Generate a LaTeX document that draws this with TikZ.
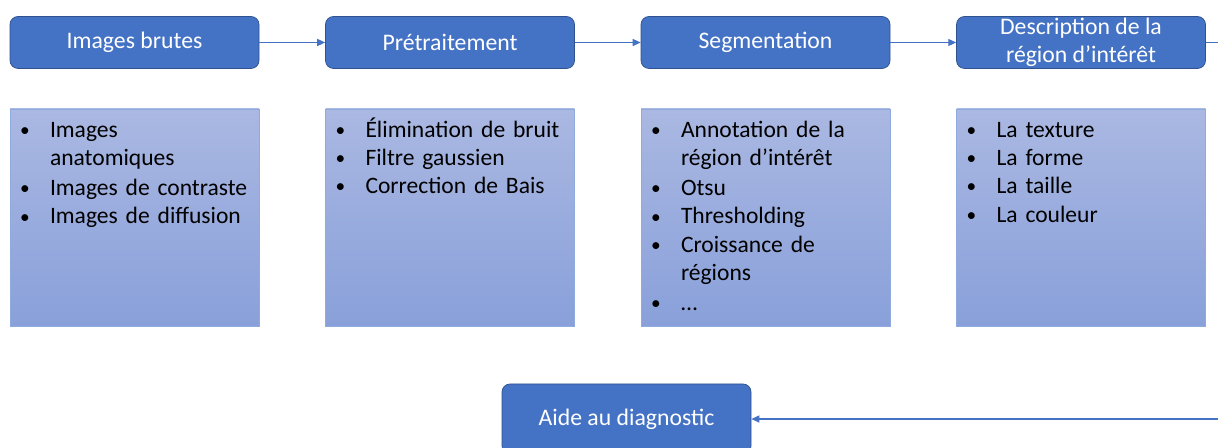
\documentclass[tikz,border=0pt]{standalone}
\usepackage{fontspec}
\setmainfont{Carlito}
\usetikzlibrary{positioning,arrows.meta}
\definecolor{bleu}{RGB}{68,114,196}
\definecolor{bleufonce}{RGB}{47,82,143}
\definecolor{bleuhaut}{RGB}{170,184,226}
\definecolor{bleubas}{RGB}{137,160,218}
\definecolor{bleubord}{RGB}{143,170,220}
\newcommand{\puce}[1]{\par\noindent\makebox[0.6cm][l]{\raisebox{0.5pt}{\fontsize{11}{11}\selectfont\textbullet}}\parbox[t]{4.3cm}{\raggedright\strut #1\strut}}

\begin{document}
\begin{tikzpicture}[node distance=6.31cm, on grid,
        etape/.style={draw=bleufonce, fill=bleu, text=white, rounded corners=0.16cm,
            minimum width=4.98cm, minimum height=1.04cm, align=center, inner sep=0pt,
            font=\fontsize{13.5}{15.8}\selectfont},
        cadre/.style={draw=bleubord, top color=bleuhaut, bottom color=bleubas,
            minimum width=4.98cm, minimum height=4.34cm},
        liste/.style={anchor=north west, text width=4.9cm, align=left,
            inner xsep=0.2cm, inner ysep=0pt, font=\fontsize{13.4}{16.1}\selectfont},
        fleche/.style={-{Triangle[length=4.5pt,width=4pt]}, draw=bleu, line width=0.6pt}]
        \useasboundingbox (0,0) rectangle (24.36,-8.96);
        \node[etape] (e_1) at (2.69,-0.85) {Images brutes};
        \node[etape] (e_2) [right=of e_1] {Prétraitement};
        \node[etape] (e_3) [right=of e_2] {Segmentation};
        \node[etape] (e_4) [right=of e_3] {Description de la\\région d’intérêt};
        \node[etape, minimum height=1.4cm] (d) at (12.53,-8.38) {Aide au diagnostic};
        \coordinate (sortie) at (24.36,-0.85);
        \coordinate (retour) at (24.36,-8.38);
        % cadres et listes
        \node[cadre] (l_1) [below=3.5cm of e_1] {};
        \node[cadre] (l_2) [below=3.5cm of e_2] {};
        \node[cadre] (l_3) [below=3.5cm of e_3] {};
        \node[cadre] (l_4) [below=3.5cm of e_4] {};
        \node[liste] (t_1) at (l_1.north west) {\puce{Images\\anatomiques}\puce{Images de contraste}\puce{Images de diffusion}};
        \node[liste] (t_2) at (l_2.north west) {\puce{Élimination de bruit}\puce{Filtre gaussien}\puce{Correction de Bais}};
        \node[liste] (t_3) at (l_3.north west) {\puce{Annotation de la\\région d’intérêt}\puce{Otsu}\puce{Thresholding}\puce{Croissance de\\régions}\puce{…}};
        \node[liste] (t_4) at (l_4.north west) {\puce{La texture}\puce{La forme}\puce{La taille}\puce{La couleur}};
        % connexions
        \draw[fleche] (e_1) -- (e_2);
        \draw[fleche] (e_2) -- (e_3);
        \draw[fleche] (e_3) -- (e_4);
        \draw[bleu, line width=0.6pt] (e_4) -- (sortie);
        \draw[fleche] (retour) -- (d);
\end{tikzpicture}
\end{document}
